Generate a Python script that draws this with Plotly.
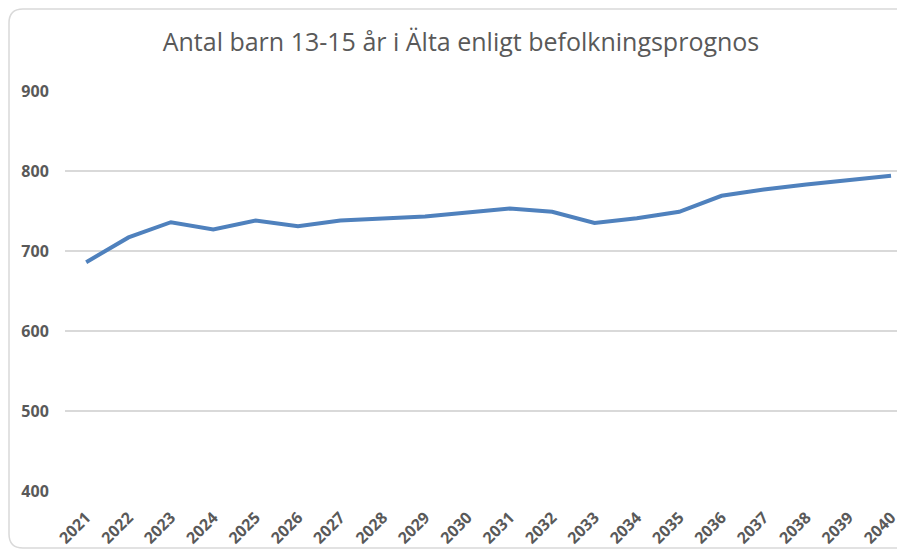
import plotly.graph_objects as go

years = [str(y) for y in range(2021, 2041)]
values = [686, 717, 736, 727, 738, 731, 738, 740, 743, 748,
          753, 749, 735, 741, 749, 769, 777, 783, 789, 794]
y_ticks = [400, 500, 600, 700, 800, 900]
title_text = "Antal barn 13-15 år i Älta enligt befolkningsprognos"

W, H = 897, 547  # page body has an 8px margin
L, T, B = 57, 83, 64
plot_w = W - L
plot_h = H - T - B

fig = go.Figure()
fig.add_trace(go.Scatter(
    x=years, y=values, mode="lines",
    line=dict(color="#4F81BD", width=4),
    hoverinfo="x+y",
))

# rounded chart border (paper coordinates)
def px_x(p):
    return (p - 8 - L) / plot_w

def px_y(p):
    return (H - B - (p - 8)) / plot_h

x0, x1, y0, y1 = px_x(9), px_x(915), px_y(548), px_y(9)
rx, ry = 14 / plot_w, 14 / plot_h
path = (f"M {x0+rx},{y1} L {x1-rx},{y1} Q {x1},{y1} {x1},{y1-ry} "
        f"L {x1},{y0+ry} Q {x1},{y0} {x1-rx},{y0} L {x0+rx},{y0} "
        f"Q {x0},{y0} {x0},{y0+ry} L {x0},{y1-ry} Q {x0},{y1} {x0+rx},{y1} Z")
fig.add_shape(type="path", path=path, xref="paper", yref="paper",
              line=dict(color="#D9D9D9", width=1.5), layer="above")

tick_font = dict(family="Open Sans, sans-serif", size=16, color="#595959", weight="bold")

fig.update_layout(
    width=W, height=H,
    margin=dict(l=L, r=0, t=T, b=B, autoexpand=False),
    paper_bgcolor="white", plot_bgcolor="white",
    showlegend=False,
    title=dict(text=title_text, x=(461 - 8) / W, xanchor="center", y=1 - (42 - 8) / H, yanchor="middle",
               font=dict(family="Open Sans, sans-serif", size=25, color="#595959")),
    xaxis=dict(type="category", range=[-0.5, 19.33], showgrid=False, showline=False,
               zeroline=False, tickangle=-45, ticks="outside", ticklen=10, tickcolor="white",
               tickfont=tick_font, automargin=False),
    yaxis=dict(range=[400, 900], tickvals=y_ticks, showgrid=True, gridcolor="#D9D9D9", gridwidth=1.5,
               zeroline=False, showline=False, ticks="outside", ticklen=12, tickcolor="white",
               tickfont=tick_font, automargin=False),
)

fig.write_html("out.html")
